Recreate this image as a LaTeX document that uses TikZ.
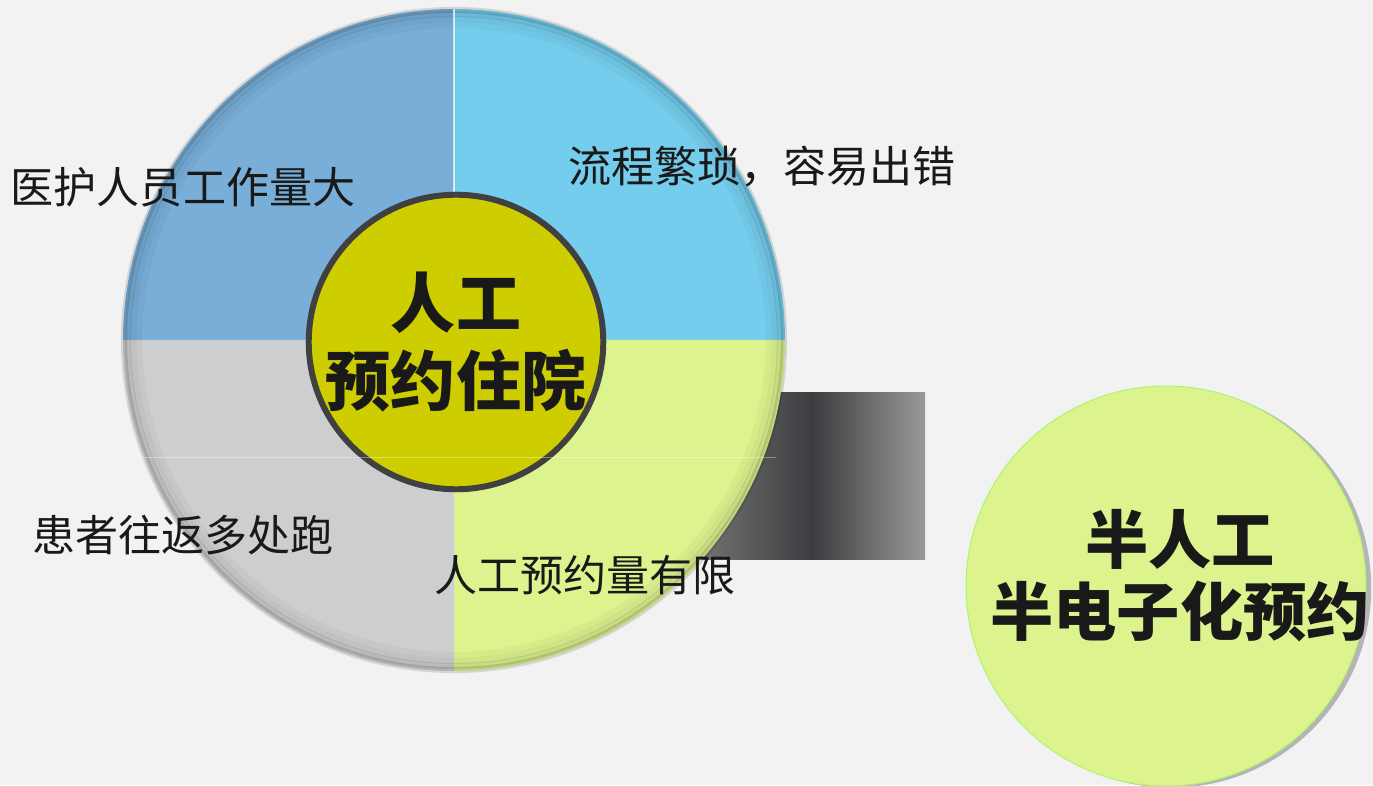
\documentclass[tikz,border=0pt]{standalone}
\usepackage{fontspec}
\setmainfont{Noto Sans CJK SC}
\usetikzlibrary{shadows}
\definecolor{bgrey}{HTML}{F2F2F2}
\definecolor{qblue}{HTML}{78AED8}
\definecolor{qsky}{HTML}{74CDEC}
\definecolor{qlime}{HTML}{DCF38E}
\definecolor{qgrey}{HTML}{CDCED0}
\definecolor{coreolive}{HTML}{CDCD00}
\definecolor{coreline}{HTML}{404040}
\definecolor{barmid}{HTML}{3C3D40}

\begin{document}
\begin{tikzpicture}[x = 0.02cm, y = 0.02cm,
    issue/.style = {font = \fontsize{24.5pt}{27pt}\selectfont, text = black!90},
    core/.style = {circle, draw = coreline, line width = 3.4pt, fill = coreolive,
    minimum size = 5.64cm, inner sep = 0pt, align = center,
    font = \bfseries\fontsize{37pt}{44pt}\selectfont, text = black!90},
    stage/.style = {circle, draw = qlime!80!green, line width = 0.6pt, fill = qlime,
    minimum size = 8cm, inner sep = 0pt,
    drop shadow = {shadow xshift = 3pt, shadow yshift = -1pt, fill = black!45, opacity = 0.6}}
    ]
    \fill[bgrey] (0,0) rectangle (1373,785);
    \useasboundingbox (0,0) rectangle (1373,785);
    \shade[left color = black!55, right color = black!40, middle color = barmid]
        (700,225) rectangle (925,392);
    \coordinate (mid) at (454,445);
    \fill[qblue] (mid) -- ++(90:331) arc (90:180:331) -- cycle;
    \fill[qsky] (mid) -- ++(0:331) arc (0:90:331) -- cycle;
    \fill[qlime] (mid) -- ++(270:331) arc (270:360:331) -- cycle;
    \fill[qgrey] (mid) -- ++(180:331) arc (180:270:331) -- cycle;
    \foreach \r/\o in {330/0.12, 326/0.09, 321/0.06, 315/0.03}
        \draw[black, opacity = \o, line width = 3.5pt] (mid) circle (\r);
    \draw[white, opacity = 0.7, line width = 0.6pt] (mid) -- ++(0,331);
    \node[core] (hub) at (456,443) {人工\\预约住院};
    \draw[white, opacity = 0.35, line width = 0.5pt] (mid) ++(-322,-117) -- ++(644,0);
    \node[issue] (staff) at (183,598) {医护人员工作量大};
    \node[issue] (flow) at (762,618) {流程繁琐，容易出错};
    \node[issue] (trips) at (183,250) {患者往返多处跑};
    \node[issue] (quota) at (585,210) {人工预约量有限};
    \node[stage] (next) at (1166,199) {};
    \node[align = center, font = \bfseries\fontsize{36pt}{41pt}\selectfont, text = black!90]
        (nextlabel) at (1180,209) {半人工\\半电子化预约};
\end{tikzpicture}
\end{document}
